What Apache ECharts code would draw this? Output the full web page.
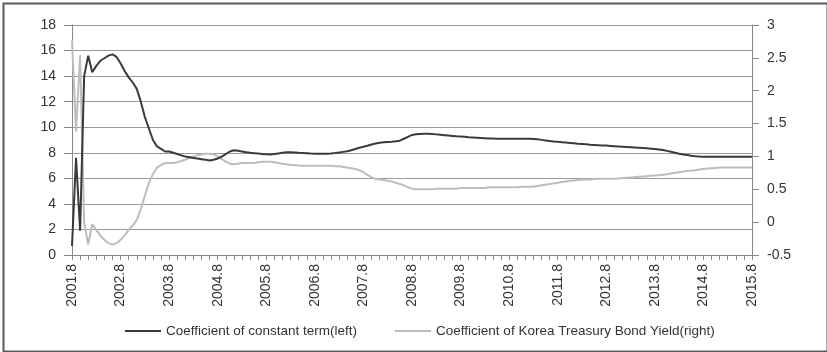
<!DOCTYPE html>
<html>
<head>
<meta charset="utf-8">
<script src="https://cdn.jsdelivr.net/npm/echarts@6/dist/echarts.min.js"></script>
<style>html,body{margin:0;padding:0;background:#fff}#c{width:827px;height:352px}</style>
</head>
<body>
<div id="c"></div>
<script>
// Monthly categories 2001.8 .. 2015.8
var startYear = 2001, startMonth = 8, monthCount = 169;
var categories = [];
for (var i = 0; i < monthCount; i++) {
  var t = (startMonth - 1) + i;
  categories.push((startYear + Math.floor(t / 12)) + '.' + (t % 12 + 1));
}
var leftTicks = [0, 2, 4, 6, 8, 10, 12, 14, 16, 18];
var rightTicks = [-0.5, 0, 0.5, 1, 1.5, 2, 2.5, 3];
var seriesNames = ['Coefficient of constant term(left)', 'Coefficient of Korea Treasury Bond Yield(right)'];

var constantTerm = [
0.7, 7.6, 1.9, 14.0, 15.6, 14.3, 14.8, 15.2, 15.4, 15.6,
15.7, 15.5, 15.0, 14.4, 13.9, 13.5, 13.0, 12.0, 10.8, 9.9,
9.0, 8.5, 8.3, 8.1, 8.1, 8.0, 7.9, 7.8, 7.7, 7.65,
7.6, 7.55, 7.5, 7.45, 7.4, 7.45, 7.55, 7.7, 7.9, 8.1,
8.2, 8.15, 8.1, 8.05, 8.0, 7.97, 7.94, 7.9, 7.88, 7.86,
7.9, 7.95, 8.0, 8.05, 8.05, 8.03, 8.0, 7.98, 7.96, 7.94,
7.93, 7.92, 7.92, 7.93, 7.95, 7.98, 8.02, 8.07, 8.12, 8.2,
8.3, 8.4, 8.47, 8.55, 8.65, 8.72, 8.78, 8.82, 8.85, 8.87,
8.9, 8.95, 9.1, 9.25, 9.4, 9.45, 9.47, 9.48, 9.48, 9.47,
9.44, 9.41, 9.38, 9.35, 9.32, 9.29, 9.27, 9.25, 9.22, 9.2,
9.18, 9.16, 9.14, 9.12, 9.11, 9.1, 9.1, 9.1, 9.1, 9.1,
9.1, 9.1, 9.1, 9.1, 9.08, 9.05, 9.01, 8.97, 8.93, 8.89,
8.86, 8.83, 8.8, 8.77, 8.74, 8.71, 8.69, 8.66, 8.63, 8.61,
8.59, 8.57, 8.56, 8.54, 8.52, 8.5, 8.48, 8.46, 8.44, 8.42,
8.4, 8.38, 8.35, 8.32, 8.29, 8.26, 8.22, 8.15, 8.08, 8.0,
7.93, 7.87, 7.82, 7.77, 7.73, 7.7, 7.68, 7.68, 7.68, 7.68,
7.68, 7.68, 7.68, 7.68, 7.68, 7.68, 7.68, 7.68, 7.68
];

var bondYield = [
2.77, 1.38, 2.54, 0.0, -0.34, -0.03, -0.12, -0.2, -0.27, -0.32,
-0.34, -0.32, -0.27, -0.2, -0.12, -0.05, 0.03, 0.2, 0.4, 0.6,
0.73, 0.83, 0.87, 0.9, 0.9, 0.9, 0.91, 0.93, 0.95, 0.98,
1.0, 1.02, 1.03, 1.04, 1.04, 1.03, 1.0, 0.96, 0.92, 0.89,
0.88, 0.89, 0.9, 0.9, 0.9, 0.9, 0.91, 0.92, 0.92, 0.92,
0.91, 0.9, 0.89, 0.88, 0.87, 0.87, 0.86, 0.86, 0.86, 0.86,
0.86, 0.86, 0.86, 0.86, 0.86, 0.85, 0.85, 0.84, 0.83, 0.82,
0.81, 0.79, 0.76, 0.72, 0.68, 0.66, 0.65, 0.64, 0.63, 0.62,
0.6, 0.58, 0.56, 0.53, 0.51, 0.5, 0.5, 0.5, 0.5, 0.5,
0.51, 0.51, 0.51, 0.51, 0.51, 0.51, 0.52, 0.52, 0.52, 0.52,
0.52, 0.52, 0.52, 0.53, 0.53, 0.53, 0.53, 0.53, 0.53, 0.53,
0.53, 0.54, 0.54, 0.54, 0.54, 0.55, 0.56, 0.57, 0.58, 0.59,
0.6, 0.61, 0.62, 0.63, 0.635, 0.64, 0.645, 0.65, 0.65, 0.655,
0.66, 0.66, 0.66, 0.66, 0.66, 0.665, 0.67, 0.675, 0.68, 0.685,
0.69, 0.695, 0.7, 0.705, 0.71, 0.715, 0.72, 0.73, 0.74, 0.75,
0.76, 0.77, 0.78, 0.785, 0.79, 0.8, 0.81, 0.815, 0.82, 0.825,
0.83, 0.83, 0.83, 0.83, 0.83, 0.83, 0.83, 0.83, 0.83
];

var FONT = '"Liberation Sans", Arial, sans-serif';
var chart = echarts.init(document.getElementById('c'), null, {renderer: 'canvas'});
chart.setOption({
  animation: false,
  backgroundColor: '#fff',
  graphic: [{
    type: 'rect', left: 1, top: 1, silent: true,
    shape: {x: 0, y: 0, width: 824, height: 348},
    style: {fill: 'none', stroke: '#5a5a5a', lineWidth: 2}
  }],
  grid: {left: 72, right: 75, top: 25, bottom: 97, containLabel: false},
  legend: {
    left: 120, top: 319, itemWidth: 36, itemHeight: 2, itemGap: 38,
    icon: 'rect',
    textStyle: {fontFamily: FONT, fontSize: 13.5, color: '#333', padding: [0, 0, 0, 0]},
    data: seriesNames
  },
  xAxis: {
    type: 'category', boundaryGap: false, data: categories,
    axisLine: {onZero: false, lineStyle: {color: '#888', width: 1}},
    axisTick: {show: true, interval: 1, length: 5, lineStyle: {color: '#888'}},
    axisLabel: {interval: 11, rotate: 90, margin: 9, fontFamily: FONT, fontSize: 14, color: '#333'},
    splitLine: {show: false}
  },
  yAxis: [{
    type: 'value', min: leftTicks[0], max: leftTicks[leftTicks.length - 1], interval: 2,
    axisLine: {show: true, lineStyle: {color: '#888'}},
    axisTick: {show: true, length: 8, lineStyle: {color: '#888'}},
    axisLabel: {margin: 16, fontFamily: FONT, fontSize: 14, color: '#333'},
    splitLine: {show: true, lineStyle: {color: '#9a9a9a', width: 1}}
  }, {
    type: 'value', position: 'right', min: rightTicks[0], max: rightTicks[rightTicks.length - 1], interval: 0.5,
    axisLine: {show: true, lineStyle: {color: '#888'}},
    axisTick: {show: true, length: 7, lineStyle: {color: '#888'}},
    axisLabel: {margin: 15, fontFamily: FONT, fontSize: 14, color: '#333'},
    splitLine: {show: false}
  }],
  series: [{
    name: seriesNames[0], type: 'line', yAxisIndex: 0, data: constantTerm,
    showSymbol: false, symbol: 'none', color: '#3a3a3a',
    lineStyle: {color: '#3a3a3a', width: 2}, z: 3
  }, {
    name: seriesNames[1], type: 'line', yAxisIndex: 1, data: bondYield,
    showSymbol: false, symbol: 'none', color: '#bdbdbd',
    lineStyle: {color: '#bdbdbd', width: 2}, z: 2
  }]
});
</script>
</body>
</html>
